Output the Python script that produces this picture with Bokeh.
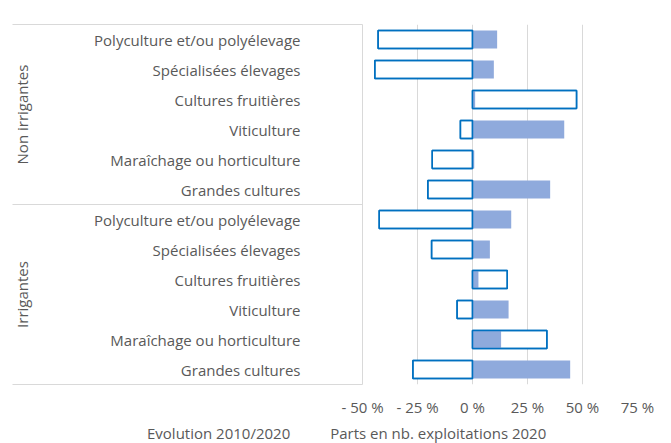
import math
from bokeh.plotting import figure
from bokeh.layouts import column
from bokeh.models import FixedTicker, LinearAxis, Range1d, Legend, LegendItem, ColumnDataSource, Div
from bokeh.embed import file_html
from bokeh.resources import INLINE

# Categories, bottom to top within each group
categories = ["Grandes cultures", "Maraîchage ou horticulture", "Viticulture",
              "Cultures fruitières", "Spécialisées élevages", "Polyculture et/ou polyélevage"]
groups = ["Irrigantes", "Non irrigantes"]

evolution_irrigantes = [-27.1, 33.8, -7.0, 15.8, -18.6, -42.4]
parts_irrigantes = [44.4, 13.0, 16.4, 2.7, 7.9, 17.6]
evolution_non_irrigantes = [-20.3, -18.3, -5.5, 47.3, -44.4, -42.9]
parts_non_irrigantes = [35.3, 0.8, 41.7, 1.2, 9.7, 11.2]

x_ticks = [-50, -25, 0, 25, 50, 75]
x_tick_labels = ["- 50 %", "- 25 %", "0 %", "25 %", "50 %", "75 %"]
series_names = ["Evolution 2010/2020", "Parts en nb. exploitations 2020"]

FONT = "Open Sans"
FS = "15px"
TXT = "#595959"
GRID = "#d9d9d9"
OUTLINE = "#0070C0"
FILL = "#8FAADC"

n = len(categories)
ys = [i + 0.5 for i in range(2 * n)]
labels = categories + categories
evo = evolution_irrigantes + evolution_non_irrigantes
parts = parts_irrigantes + parts_non_irrigantes
src = ColumnDataSource(dict(y=ys, evo=evo, parts=parts))

p = figure(x_range=Range1d(-50, 75), y_range=Range1d(0, 2 * n),
           width=671, height=422,
           min_border_left=362, min_border_top=24, min_border_right=34, min_border_bottom=38,
           output_backend="svg", toolbar_location=None)
p.outline_line_color = None
p.background_fill_color = "white"

p.hbar(y="y", left=0, right="evo", height=0.6, source=src,
       fill_color="white", line_color=OUTLINE, line_width=1.5)
p.hbar(y="y", left=0, right="parts", height=0.6, source=src,
       fill_color=FILL, line_color=None)
p.hbar(y="y", left=0, right="evo", height=0.6, source=src,
       fill_color=None, line_color=OUTLINE, line_width=1.5)

# grids
p.ygrid.visible = False
p.xgrid.ticker = FixedTicker(ticks=x_ticks)
p.xgrid.grid_line_color = GRID
p.xgrid.grid_line_width = 1

# x axis
xa = p.xaxis[0]
xa.ticker = FixedTicker(ticks=x_ticks)
xa.major_label_overrides = {t: l for t, l in zip(x_ticks, x_tick_labels)}
xa.axis_line_color = None
xa.major_tick_line_color = None
xa.minor_tick_line_color = None
xa.major_tick_out = 0
xa.major_label_standoff = 12
xa.major_label_text_font = FONT
xa.major_label_text_font_size = FS
xa.major_label_text_color = TXT

# y axis (categories); long minor ticks draw the group separator lines
ya = p.yaxis[0]
ya.ticker = FixedTicker(ticks=ys, minor_ticks=[0, n, 2 * n])
ya.major_label_overrides = {y: l for y, l in zip(ys, labels)}
ya.axis_line_color = GRID
ya.major_tick_line_color = None
ya.major_tick_out = 0
ya.major_tick_in = 0
ya.minor_tick_line_color = GRID
ya.minor_tick_out = 350
ya.minor_tick_in = 0
ya.major_label_standoff = -288
ya.major_label_text_font = FONT
ya.major_label_text_font_size = FS
ya.major_label_text_color = TXT

# group axis
ga = LinearAxis(ticker=FixedTicker(ticks=[n / 2, n + n / 2]),
                major_label_overrides={n / 2: groups[0], n + n / 2: groups[1]},
                major_label_orientation="vertical")
ga.axis_line_color = None
ga.major_tick_line_color = None
ga.minor_tick_line_color = None
ga.major_tick_out = 0
ga.major_label_standoff = 60
ga.major_label_text_font = FONT
ga.major_label_text_font_size = FS
ga.major_label_text_color = TXT
p.add_layout(ga, "left")

# legend strip
p2 = figure(width=671, height=21, x_range=Range1d(0, 1), y_range=Range1d(0, 1),
            min_border=0, x_axis_location=None, y_axis_location=None,
            output_backend="svg", toolbar_location=None)

can_unalign = "frame_align" in p2.properties()

if can_unalign:
    p.frame_align = False
    p2.frame_align = False
    p2.outline_line_color = None
    p2.grid.visible = False
    empty = ColumnDataSource(dict(y=[], r=[]))
    leg_evo = p2.hbar(y="y", right="r", height=0.6, source=empty,
                      fill_color="white", line_color=OUTLINE, line_width=1.5)
    leg_parts = p2.hbar(y="y", right="r", height=0.6, source=empty,
                        fill_color=FILL, line_color=None)
    legend = Legend(items=[LegendItem(label=series_names[0], renderers=[leg_evo]),
                           LegendItem(label=series_names[1], renderers=[leg_parts])],
                    orientation="horizontal", location=(133, 0))
    legend.label_text_font = FONT
    legend.label_text_font_size = FS
    legend.label_text_color = TXT
    legend.glyph_width = 11
    legend.glyph_height = 11
    legend.label_standoff = 3
    legend.label_height = 16
    legend.spacing = 26
    legend.padding = 0
    legend.margin = 0
    legend.border_line_color = None
    legend.background_fill_alpha = 0
    p2.add_layout(legend)
    bottom = p2
else:
    sq = "display:inline-block;width:10px;height:10px;margin-right:3px;vertical-align:-1px;"
    html = (f'<span style="{sq}border:1.5px solid {OUTLINE};background:white;box-sizing:border-box"></span>'
            f'{series_names[0]}'
            f'<span style="{sq}margin-left:28px;background:{FILL}"></span>{series_names[1]}')
    bottom = Div(text=html, width=538, height=21, margin=(0, 0, 0, 133),
                 styles={"font-family": FONT, "font-size": FS, "color": TXT, "white-space": "nowrap"})

layout = column(p, bottom, spacing=0)
open("out.html", "w").write(file_html(layout, INLINE))
